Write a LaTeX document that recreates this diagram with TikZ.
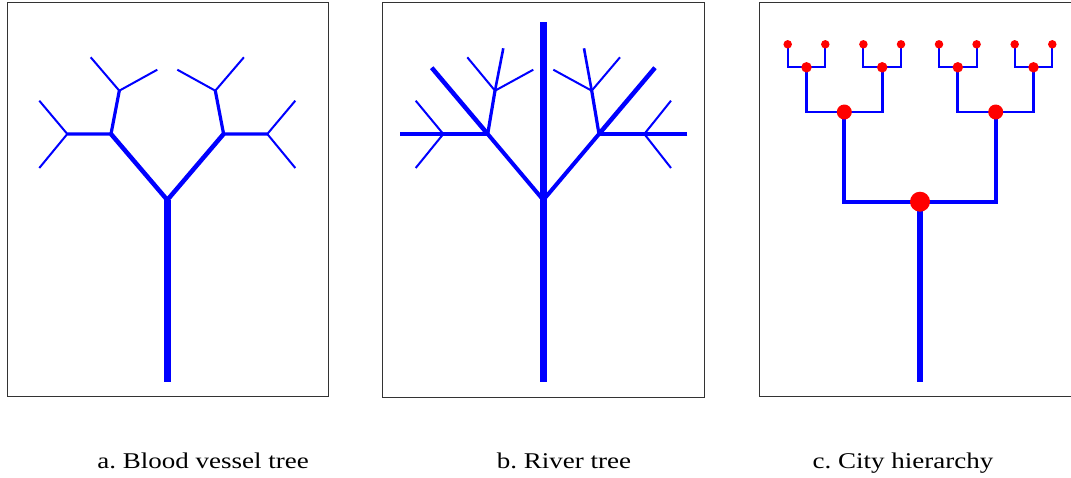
\documentclass[tikz,border=0pt]{standalone}
\usepackage{fontspec}
\setmainfont{Liberation Serif}
\frenchspacing
\begin{document}
\begin{tikzpicture}[x=1pt,y=-1pt,
  panel/.style={draw=black!80,line width=0.9pt},
  vessel/.style={draw=blue,line cap=butt,line join=miter},
  wA/.style={vessel,line width=6.5pt},
  wB/.style={vessel,line width=4.5pt},
  wC/.style={vessel,line width=3.2pt},
  wD/.style={vessel,line width=2pt},
  city/.style={circle,fill=red,inner sep=0pt,minimum size=#1},
  caption/.style={anchor=base,font=\fontsize{22.5}{27}\selectfont,xscale=1.2,transform shape}]
\useasboundingbox (0,0) rectangle (1071,477);
% panels
\draw[panel] (7,2) rectangle (328,396);
\draw[panel] (382,2) rectangle (704,397);
\draw[panel] (759,2) rectangle (1090,396);

% ---------- a. Blood vessel tree ----------
\coordinate (a0) at (167.3,381.5);
\coordinate (a1) at (167.3,200);
\coordinate (aL) at (111,134);
\coordinate (aR) at (223.6,134);
\coordinate (aLL) at (67.3,134);
\coordinate (aLU) at (119.3,90.7);
\coordinate (aRR) at (267.3,134);
\coordinate (aRU) at (215.3,90.7);
\coordinate (aLL1) at (39.3,100.7);
\coordinate (aLL2) at (39.3,168);
\coordinate (aLU1) at (90.7,57.3);
\coordinate (aLU2) at (157.3,69.7);
\coordinate (aRR1) at (295.3,100.7);
\coordinate (aRR2) at (295.3,168);
\coordinate (aRU1) at (243.9,57.3);
\coordinate (aRU2) at (177.3,69.7);
\draw[wA] (a0) -- (a1);
\draw[wB] (aL) -- (a1) -- (aR);
\draw[wC] (aLL) -- (aL) -- (aLU);
\draw[wC] (aRR) -- (aR) -- (aRU);
\draw[wD] (aLL1) -- (aLL) -- (aLL2);
\draw[wD] (aLU1) -- (aLU) -- (aLU2);
\draw[wD] (aRR1) -- (aRR) -- (aRR2);
\draw[wD] (aRU1) -- (aRU) -- (aRU2);

% ---------- b. River tree ----------
\coordinate (b0) at (543.3,381.5);
\coordinate (bT) at (543.3,21.7);
\coordinate (b1) at (543.3,200);
\coordinate (bL) at (487.7,134);
\coordinate (bR) at (599,134);
\coordinate (bLT) at (431.7,67.7);
\coordinate (bRT) at (655,67.7);
\coordinate (bLL) at (443.3,134);
\coordinate (bLLe) at (400,134);
\coordinate (bLL1) at (415.7,100.7);
\coordinate (bLL2) at (415.7,168);
\coordinate (bLU) at (495,90.7);
\coordinate (bLU1) at (503.3,48.3);
\coordinate (bLU2) at (467.3,57.3);
\coordinate (bLU3) at (533.3,69.7);
\coordinate (bRR) at (644.3,134);
\coordinate (bRRe) at (687.3,134);
\coordinate (bRR1) at (671,100.7);
\coordinate (bRR2) at (671,168);
\coordinate (bRU) at (591.7,90.7);
\coordinate (bRU1) at (584,48.3);
\coordinate (bRU2) at (620,57.3);
\coordinate (bRU3) at (553.3,69.7);
\draw[wA] (b0) -- (bT);
\draw[vessel,line width=4pt] (b1) -- (bL);
\draw[vessel,line width=4pt] (b1) -- (bR);
\draw[wB] (bL) -- (bLT);
\draw[wB] (bR) -- (bRT);
\draw[wC] (bLLe) -- (bLL) -- (bL);
\draw[wC] (bRRe) -- (bRR) -- (bR);
\draw[wC] (bL) -- (bLU);
\draw[wC] (bR) -- (bRU);
\draw[wD] (bLL1) -- (bLL) -- (bLL2);
\draw[wD] (bRR1) -- (bRR) -- (bRR2);
\draw[vessel,line width=2.6pt] (bLU) -- (bLU1);
\draw[wD] (bLU2) -- (bLU) -- (bLU3);
\draw[vessel,line width=2.6pt] (bRU) -- (bRU1);
\draw[wD] (bRU2) -- (bRU) -- (bRU3);

% ---------- c. City hierarchy ----------
\coordinate (c0) at (920,381.5);
\coordinate (cb1) at (844.3,201.7);
\coordinate (cb2) at (995.7,201.7);
\coordinate (cb11) at (806.5,112);
\coordinate (cb12) at (882.2,112);
\coordinate (cb21) at (957.8,112);
\coordinate (cb22) at (1033.5,112);
\draw[wA] (c0) -- (920,201.7);
\draw[vessel,line width=4pt] (844.3,112) -- (cb1) -- (cb2) -- (995.7,112);
\draw[vessel,line width=2.8pt] (806.5,67.3) -- (cb11) -- (cb12) -- (882.2,67.3);
\draw[vessel,line width=2.8pt] (957.8,67.3) -- (cb21) -- (cb22) -- (1033.5,67.3);
\foreach \x in {806.5,882.2,957.8,1033.5}{
  \draw[vessel,line width=2pt] (\x-18.8,44.3) -- (\x-18.8,67.3) -- (\x+18.8,67.3) -- (\x+18.8,44.3);
}
\node[city=20pt] (croot) at (920,201.7) {};
\node[city=15pt] (cA) at (844.3,112) {};
\node[city=15pt] (cB) at (995.7,112) {};
\foreach \x/\n in {806.5/1,882.2/2,957.8/3,1033.5/4}{
  \node[city=10.5pt] (cm\n) at (\x,67.3) {};
  \node[city=8.5pt] (cl\n a) at (\x-18.8,44.3) {};
  \node[city=8.5pt] (cl\n b) at (\x+18.8,44.3) {};
}

% captions
\node[caption] (capa) at (203,468) {a. Blood vessel tree};
\node[caption] (capb) at (564,468) {b. River tree};
\node[caption] (capc) at (903,468) {c. City hierarchy};
\end{tikzpicture}
\end{document}
